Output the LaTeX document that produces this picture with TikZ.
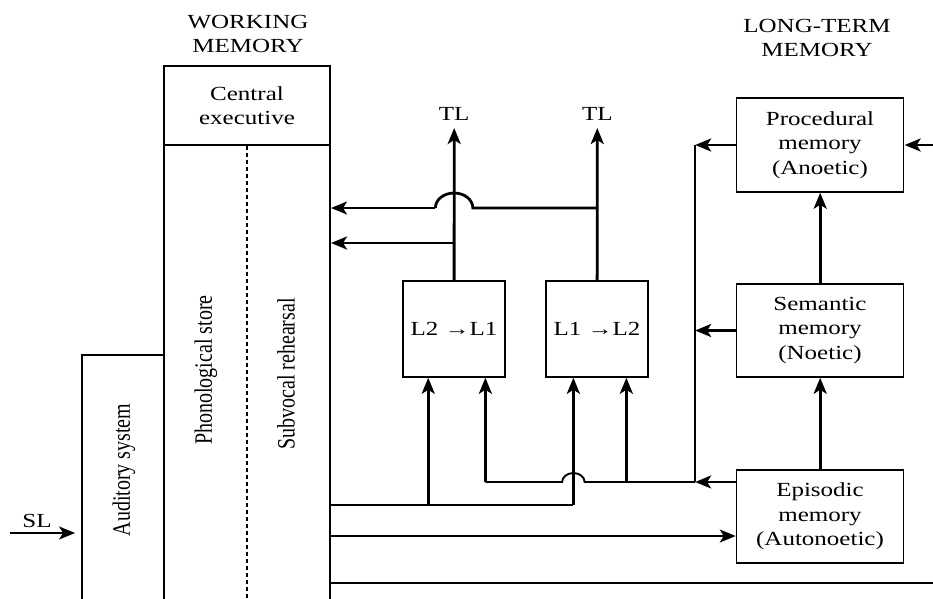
\documentclass[tikz,border=0pt]{standalone}
\usepackage{fontspec}
\setmainfont{Liberation Serif}
\usetikzlibrary{arrows.meta,calc}
\tikzset{%
  membox/.style   = {shape=rectangle, draw, align=center,%
                     line width=1.5pt, inner sep=0pt},%
  sidetext/.style = {rotate=90},%
  link/.style     = {line width=2.8pt},%
  thinlink/.style = {line width=1.9pt},%
  arr/.style      = {-{Stealth[length=16pt,width=13pt,inset=4pt]}}%
}

\begin{document}
\begin{tikzpicture}[x=0.8pt,y=-1pt,xscale=1.25,transform shape,
		every node/.style = {font=\fontsize{20}{24.5}\selectfont, align=center}]
		\clip (0,0) rectangle (933,598);
		\useasboundingbox (0,0) rectangle (933,598);
		% working memory
		\node (wmtitle) at (248,34) {WORKING\\MEMORY};
		\node[membox, minimum width=132.8pt, minimum height=79pt] (ce) at (247,105.5) {Central\\executive};
		\node[membox, minimum width=132.8pt, minimum height=475pt] (wmlow) at (247,382.5) {};
		\draw[dash pattern=on 4pt off 3pt, line width=1.2pt] (ce.south) -- (wmlow.south);
		\node[sidetext] (phon) at (206,370) {Phonological store};
		\node[sidetext] (subv) at (286,374) {Subvocal rehearsal};
		% auditory system
		\node[membox, minimum width=65.6pt, minimum height=265pt] (aud) at (123,487.5) {};
		\node[sidetext] (audtext) at (124,470) {Auditory system};
		\coordinate (slin) at (10,533);
		\draw[thinlink,arr,shorten >=6pt] (slin) -- node[above=1pt, pos=0.38] (sl) {SL} (aud.west |- slin);
		% long-term memory
		\node (ltmtitle) at (817,38) {LONG-TERM\\MEMORY};
		\node[membox, minimum width=133.6pt, minimum height=94pt] (proc) at (820,145) {Procedural\\memory\\(Anoetic)};
		\node[membox, minimum width=133.6pt, minimum height=93pt] (sem) at (820,330.5) {Semantic\\memory\\(Noetic)};
		\node[membox, minimum width=133.6pt, minimum height=93pt] (epi) at (820,516.5) {Episodic\\memory\\(Autonoetic)};
		\draw[link,arr] (sem.north) -- (proc.south);
		\draw[link,arr] (epi.north) -- (sem.south);
		\coordinate (procin) at (933,145);
		\draw[link,arr] (procin) -- (proc.east);
		% translation
		\node[membox, minimum width=81.6pt, minimum height=96pt] (l21) at (454,329) {L2 {\bfseries →}L1};
		\node[membox, minimum width=81.6pt, minimum height=96pt] (l12) at (597,329) {L1 {\bfseries →}L2};
		\coordinate (tl21) at (l21.north |- 0,128);
		\coordinate (tl12) at (l12.north |- 0,128);
		\draw[link,arr] (l21.north) -- (tl21) node[above=3pt] (tla) {TL};
		\draw[link,arr] (l12.north) -- (tl12) node[above=3pt] (tlb) {TL};
		% back to working memory
		\draw[link] (l12.north |- 0,208) -- ($(l21.north |- 0,208)+(18.75,0)$)
			arc[start angle=0, end angle=180, radius=15pt] coordinate (hopa);
		\draw[thinlink,arr] (hopa) -- (wmlow.east |- hopa);
		\draw[link,arr] (l21.north |- 0,243) -- (wmlow.east |- 0,243);
		% into the translation boxes
		\coordinate (l21a) at ($(l21.south west)!0.25!(l21.south east)$);
		\coordinate (l21b) at ($(l21.south west)!0.8!(l21.south east)$);
		\coordinate (l12a) at ($(l12.south west)!0.27!(l12.south east)$);
		\coordinate (l12b) at ($(l12.south west)!0.78!(l12.south east)$);
		\draw[thinlink] (wmlow.east |- 0,505) -- (l12a |- 0,505);
		\draw[link,arr] (l21a |- 0,505) -- (l21a);
		\draw[link,arr] (l12a |- 0,505) -- (l12a);
		\coordinate (bus) at (695,482);
		\draw[thinlink,arr] (epi.west |- bus) -- (bus);
		\draw[thinlink] (bus) -- ($(l12a |- bus)+(11.25,0)$)
			arc[start angle=0, end angle=180, radius=9pt] -- (l21b |- bus);
		\draw[link,arr] (l21b |- bus) -- (l21b);
		\draw[link,arr] (l12b |- bus) -- (l12b);
		\draw[thinlink] (bus) -- (bus |- proc.west);
		\draw[link,arr] (proc.west) -- (bus |- proc.west);
		\draw[link,arr] (sem.west) -- (bus |- sem.west);
		% to episodic memory and out
		\draw[thinlink,arr] (wmlow.east |- 0,536) -- (epi.west |- 0,536);
		\coordinate (wmout) at (933,583);
		\draw[thinlink] (wmlow.east |- wmout) -- (wmout);
\end{tikzpicture}
\end{document}
